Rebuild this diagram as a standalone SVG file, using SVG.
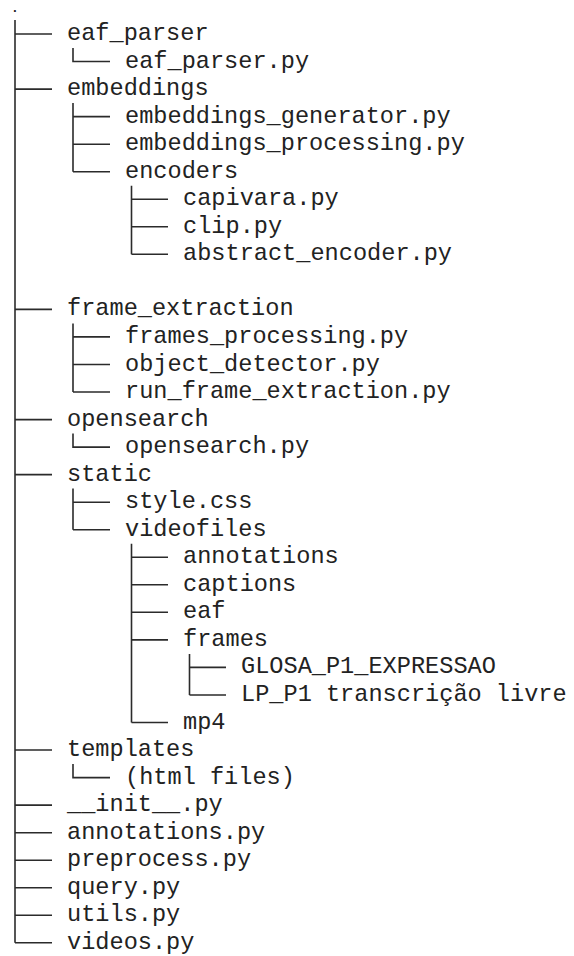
<svg xmlns="http://www.w3.org/2000/svg" width="574" height="956" viewBox="0 0 574 956">
  <style>
    .bg { fill: #ffffff; }
    .t { font-family: "Liberation Mono", "Courier New", monospace; font-size: 23.6px; fill: #222222; white-space: pre; }
    .dot { font-family: "Liberation Mono", "Courier New", monospace; font-size: 13px; font-weight: bold; fill: #222222; }
    .br { fill: none; stroke: #2b2b2b; stroke-width: 1.6; stroke-linecap: butt; }
  </style>
  <rect class="bg" x="0" y="0" width="574" height="956"/>

  <!-- tree connectors: trunk lines (vertical) and branch ticks (horizontal) -->
  <g id="connectors" class="br">
    <!-- root trunk -->
    <path d="M15 20 V942.8"/>
    <!-- level 1 ticks -->
    <path d="M15 34 H52 M15 89.1 H52 M15 309.4 H52 M15 419.6 H52 M15 474.6 H52 M15 750 H52 M15 805.1 H52 M15 832.7 H52 M15 860.2 H52 M15 887.7 H52 M15 915.3 H52 M15 942.8 H52"/>
    <!-- eaf_parser -->
    <path d="M73 48 V61.5 H110"/>
    <!-- embeddings -->
    <path d="M73 103 V171.7 M73 116.6 H110 M73 144.2 H110 M73 171.7 H110"/>
    <!-- encoders -->
    <path d="M131.5 185.7 V254.3 M131.5 199.2 H168 M131.5 226.8 H168 M131.5 254.3 H168"/>
    <!-- frame_extraction -->
    <path d="M73 323.4 V392 M73 336.9 H110 M73 364.5 H110 M73 392 H110"/>
    <!-- opensearch -->
    <path d="M73 433.6 V447.1 H110"/>
    <!-- static -->
    <path d="M73 488.6 V529.7 M73 502.2 H110 M73 529.7 H110"/>
    <!-- videofiles -->
    <path d="M131.5 543.7 V722.5 M131.5 557.3 H168 M131.5 584.8 H168 M131.5 612.3 H168 M131.5 639.9 H168 M131.5 722.5 H168"/>
    <!-- frames -->
    <path d="M189.5 653.9 V695 M189.5 667.4 H226 M189.5 695 H226"/>
    <!-- templates -->
    <path d="M73 764 V777.6 H110"/>
  </g>

  <!-- root marker -->
  <g id="root"><text class="dot" x="11.1" y="12">.</text></g>

  <g id="eaf_parser"><text class="t" x="67" y="40">eaf_parser</text></g>
  <g id="eaf_parser_py"><text class="t" x="125" y="67.5">eaf_parser.py</text></g>

  <g id="embeddings"><text class="t" x="67" y="95.1">embeddings</text></g>
  <g id="embeddings_generator_py"><text class="t" x="125" y="122.6">embeddings_generator.py</text></g>
  <g id="embeddings_processing_py"><text class="t" x="125" y="150.2">embeddings_processing.py</text></g>
  <g id="encoders"><text class="t" x="125" y="177.7">encoders</text></g>
  <g id="capivara_py"><text class="t" x="183" y="205.2">capivara.py</text></g>
  <g id="clip_py"><text class="t" x="183" y="232.8">clip.py</text></g>
  <g id="abstract_encoder_py"><text class="t" x="183" y="260.3">abstract_encoder.py</text></g>

  <g id="frame_extraction"><text class="t" x="67" y="315.4">frame_extraction</text></g>
  <g id="frames_processing_py"><text class="t" x="125" y="342.9">frames_processing.py</text></g>
  <g id="object_detector_py"><text class="t" x="125" y="370.5">object_detector.py</text></g>
  <g id="run_frame_extraction_py"><text class="t" x="125" y="398">run_frame_extraction.py</text></g>

  <g id="opensearch"><text class="t" x="67" y="425.6">opensearch</text></g>
  <g id="opensearch_py"><text class="t" x="125" y="453.1">opensearch.py</text></g>

  <g id="static"><text class="t" x="67" y="480.6">static</text></g>
  <g id="style_css"><text class="t" x="125" y="508.2">style.css</text></g>
  <g id="videofiles"><text class="t" x="125" y="535.7">videofiles</text></g>
  <g id="annotations_dir"><text class="t" x="183" y="563.3">annotations</text></g>
  <g id="captions"><text class="t" x="183" y="590.8">captions</text></g>
  <g id="eaf"><text class="t" x="183" y="618.3">eaf</text></g>
  <g id="frames"><text class="t" x="183" y="645.9">frames</text></g>
  <g id="glosa"><text class="t" x="241" y="673.4">GLOSA_P1_EXPRESSAO</text></g>
  <g id="lp_p1"><text class="t" x="241" y="701">LP_P1 transcrição livre</text></g>
  <g id="mp4"><text class="t" x="183" y="728.5">mp4</text></g>

  <g id="templates"><text class="t" x="67" y="756">templates</text></g>
  <g id="html_files"><text class="t" x="125" y="783.6">(html files)</text></g>

  <g id="init_py"><text class="t" x="67" y="811.1">__init__.py</text></g>
  <g id="annotations_py"><text class="t" x="67" y="838.7">annotations.py</text></g>
  <g id="preprocess_py"><text class="t" x="67" y="866.2">preprocess.py</text></g>
  <g id="query_py"><text class="t" x="67" y="893.7">query.py</text></g>
  <g id="utils_py"><text class="t" x="67" y="921.3">utils.py</text></g>
  <g id="videos_py"><text class="t" x="67" y="948.8">videos.py</text></g>
</svg>
